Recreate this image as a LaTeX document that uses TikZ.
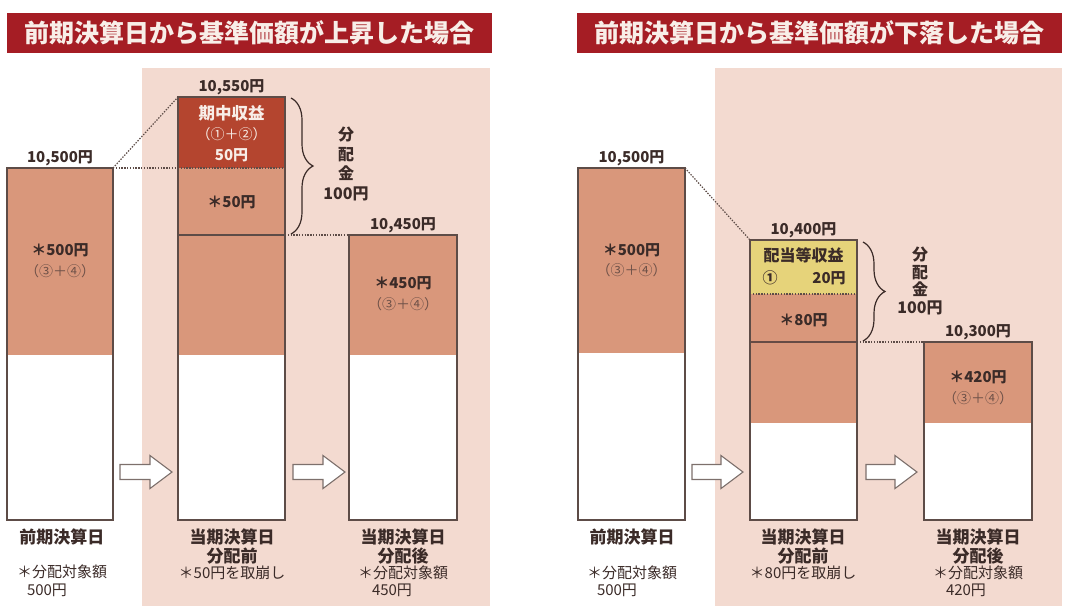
\documentclass[tikz,border=0pt]{standalone}
\usepackage{fontspec}
\setmainfont{Noto Sans CJK JP}
\usetikzlibrary{decorations.pathreplacing}
\definecolor{barred}{HTML}{A51D24}
\definecolor{bgpink}{HTML}{F3DAD0}
\definecolor{salmon}{HTML}{D9977B}
\definecolor{darkred}{HTML}{B4452F}
\definecolor{yel}{HTML}{E6D37A}
\definecolor{edge}{HTML}{5D4C47}
\definecolor{ink}{HTML}{3B2B28}
\definecolor{soft}{HTML}{6E5148}
\definecolor{whiteish}{HTML}{F8EEE8}
\tikzset{
  seg/.style={draw=none, inner sep=0pt, outer sep=0pt},
  boxline/.style={draw=edge, line width=1.2pt},
  dotline/.style={draw=edge, dash pattern=on 1.4pt off 1.4pt, line width=1.2pt},
  sepline/.style={draw=edge, line width=1.2pt},
  titlebar/.style={fill=barred, text=whiteish, inner sep=0pt, minimum width=485, minimum height=40, font=\fontsize{25}{28}\selectfont\bfseries},
  toplbl/.style={text=ink, anchor=south, inner sep=2pt, font=\fontsize{15}{17}\selectfont\bfseries},
  inlbl/.style={text=ink, inner sep=0pt, font=\fontsize{15}{17}\selectfont\bfseries},
  sublbl/.style={text=soft, inner sep=0pt, font=\fontsize{14}{16}\selectfont},
  botlbl/.style={text=ink, inner sep=0pt, font=\fontsize{17}{19}\selectfont\bfseries},
  notelbl/.style={text=ink, inner sep=0pt, font=\fontsize{15}{17}\selectfont},
  blockarrow/.style={draw=edge!80, fill=white, line width=1.1pt, line join=miter},
  bracelbl/.style={text=ink, inner sep=0pt, align=center, font=\fontsize{16}{19.5}\selectfont\bfseries},
  bracestyle/.style={draw=ink, line width=1.2pt, decorate, decoration={brace, amplitude=22pt}}
}
\begin{document}
\begin{tikzpicture}[x=1pt,y=-1pt]
\useasboundingbox (0,0) rectangle (1076,606);
% backgrounds
\fill[bgpink] (142,68) rectangle (490,606);
\fill[bgpink] (715,68) rectangle (1062,606);
% titles
\node[titlebar] (t1) at (249.5,33) {前期決算日から基準価額が上昇した場合};
\node[titlebar] (t2) at (819.5,33) {前期決算日から基準価額が下落した場合};

%%%%%% LEFT PANEL
\node[seg, fill=salmon, minimum width=106, minimum height=187] (A1) at (60,261.5) {};
\node[seg, fill=white,  minimum width=106, minimum height=165] (A2) at (60,437.5) {};
\draw[boxline] (A1.north west) rectangle (A2.south east);

\node[seg, fill=darkred, minimum width=107, minimum height=71] (B1) at (231.5,132.5) {};
\node[seg, fill=salmon, minimum width=107, minimum height=67] (B2) at (231.5,201.5) {};
\node[seg, fill=salmon, minimum width=107, minimum height=120] (B3) at (231.5,295) {};
\node[seg, fill=white,  minimum width=107, minimum height=165] (B4) at (231.5,437.5) {};
\draw[dotline] (B1.south west) -- (B1.south east);
\draw[sepline] (B3.north west) -- (B3.north east);
\draw[boxline] (B1.north west) rectangle (B4.south east);

\node[seg, fill=salmon, minimum width=108, minimum height=120] (C1) at (403,295) {};
\node[seg, fill=white,  minimum width=108, minimum height=165] (C2) at (403,437.5) {};
\draw[boxline] (C1.north west) rectangle (C2.south east);

\draw[dotline] (A1.north east) -- (B1.north west);
\draw[dotline] (A1.north east) -- (B2.north west);
\draw[dotline] (B3.north east) -- (C1.north west);

\node[toplbl] (lA) at (A1.north) {10,500円};
\node[toplbl] (lB) at (B1.north) {10,550円};
\node[toplbl] (lC) at (C1.north) {10,450円};

\node[inlbl] (a500) at (60,250) {＊500円};
\node[sublbl] (a34) at (60,271) {（③＋④）};
\node[inlbl, text=whiteish, font=\fontsize{16.5}{18}\selectfont\bfseries] (bk1) at (231.5,113) {期中収益};
\node[sublbl, text=whiteish] (bk2) at (231.5,134) {（①＋②）};
\node[inlbl, text=whiteish] (bk3) at (231.5,155) {50円};
\node[inlbl] (b50) at (231.5,202) {＊50円};
\node[inlbl] (c450) at (403,283) {＊450円};
\node[sublbl] (c34) at (403,304) {（③＋④）};

\draw[bracestyle] (291,98) -- (291,234);
\node[bracelbl] (bl1) at (346,164) {分\\配\\金\\100円};

\coordinate (ar1) at (120,472);
\draw[blockarrow] (ar1) ++(0,-7.5) -- ++(30,0) -- ++(0,-9) -- ++(22,16.5) -- ++(-22,16.5) -- ++(0,-9) -- ++(-30,0) -- cycle;
\coordinate (ar2) at (293,472);
\draw[blockarrow] (ar2) ++(0,-7.5) -- ++(30,0) -- ++(0,-9) -- ++(22,16.5) -- ++(-22,16.5) -- ++(0,-9) -- ++(-30,0) -- cycle;

\node[botlbl] (la1) at (62,537) {前期決算日};
\node[notelbl] (la2) at (62,572) {＊分配対象額};
\node[notelbl] (la3) at (47,590) {500円};
\node[botlbl] (lb1) at (232,537) {当期決算日};
\node[botlbl] (lb2) at (232,556) {分配前};
\node[notelbl] (lb3) at (232,573) {＊50円を取崩し};
\node[botlbl] (lc1) at (403,537) {当期決算日};
\node[botlbl] (lc2) at (403,556) {分配後};
\node[notelbl] (lc3) at (403,573) {＊分配対象額};
\node[notelbl] (lc4) at (392,590) {450円};

%%%%%% RIGHT PANEL
\node[seg, fill=salmon, minimum width=107, minimum height=185] (D1) at (631.5,260.5) {};
\node[seg, fill=white,  minimum width=107, minimum height=167] (D2) at (631.5,436.5) {};
\draw[boxline] (D1.north west) rectangle (D2.south east);

\node[seg, fill=yel, minimum width=107, minimum height=54] (E1) at (803.5,267) {};
\node[seg, fill=salmon, minimum width=107, minimum height=48] (E2) at (803.5,318) {};
\node[seg, fill=salmon, minimum width=107, minimum height=81] (E3) at (803.5,382.5) {};
\node[seg, fill=white,  minimum width=107, minimum height=97] (E4) at (803.5,471.5) {};
\draw[dotline] (E1.south west) -- (E1.south east);
\draw[sepline, line width=1.8pt, draw=edge!90!darkred] (E3.north west) -- (E3.north east);
\draw[boxline] (E1.north west) rectangle (E4.south east);

\node[seg, fill=salmon, minimum width=108, minimum height=81] (F1) at (978,382.5) {};
\node[seg, fill=white,  minimum width=108, minimum height=97] (F2) at (978,471.5) {};
\draw[boxline] (F1.north west) rectangle (F2.south east);

\draw[dotline] (D1.north east) -- (E1.north west);
\draw[dotline] (E3.north east) -- (F1.north west);

\node[toplbl] (lD) at (D1.north) {10,500円};
\node[toplbl] (lE) at (E1.north) {10,400円};
\node[toplbl] (lF) at (F1.north) {10,300円};

\node[inlbl] (d500) at (631.5,250) {＊500円};
\node[sublbl] (d34) at (631.5,270) {（③＋④）};
\node[inlbl, font=\fontsize{16}{18}\selectfont\bfseries] (ey1) at (803.5,255) {配当等収益};
\node[inlbl] (ey2) at (770,278) {①};
\node[inlbl] (ey3) at (829,278) {20円};
\node[inlbl] (e80) at (803.5,320) {＊80円};
\node[inlbl] (f420) at (978,377) {＊420円};
\node[sublbl] (f34) at (978,398) {（③＋④）};

\draw[bracestyle] (863,242) -- (863,341);
\node[bracelbl, font=\fontsize{16}{17.5}\selectfont\bfseries] (bl2) at (920,281) {分\\配\\金\\100円};

\coordinate (ar3) at (692,472);
\draw[blockarrow] (ar3) ++(0,-7.5) -- ++(29,0) -- ++(0,-9) -- ++(22,16.5) -- ++(-22,16.5) -- ++(0,-9) -- ++(-29,0) -- cycle;
\coordinate (ar4) at (866,472);
\draw[blockarrow] (ar4) ++(0,-7.5) -- ++(29,0) -- ++(0,-9) -- ++(22,16.5) -- ++(-22,16.5) -- ++(0,-9) -- ++(-29,0) -- cycle;

\node[botlbl] (ld1) at (632,537) {前期決算日};
\node[notelbl] (ld2) at (632,573) {＊分配対象額};
\node[notelbl] (ld3) at (617,590) {500円};
\node[botlbl] (le1) at (803,537) {当期決算日};
\node[botlbl] (le2) at (803,556) {分配前};
\node[notelbl] (le3) at (803,573) {＊80円を取崩し};
\node[botlbl] (lf1) at (978,537) {当期決算日};
\node[botlbl] (lf2) at (978,556) {分配後};
\node[notelbl] (lf3) at (978,573) {＊分配対象額};
\node[notelbl] (lf4) at (966,590) {420円};
\end{tikzpicture}
\end{document}
